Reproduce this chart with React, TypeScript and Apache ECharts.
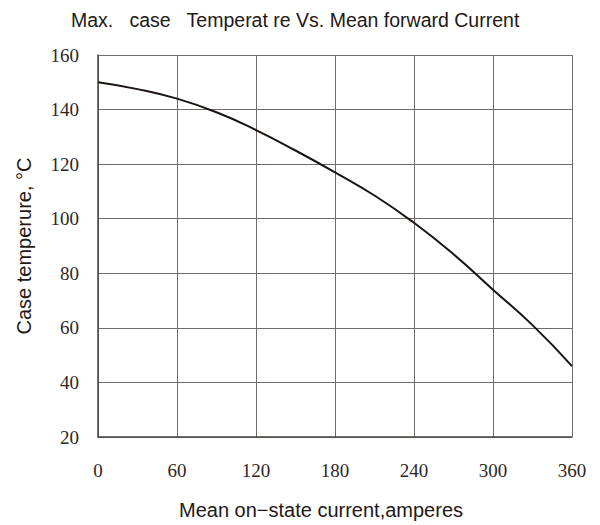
import React, { useEffect, useRef } from "react";
import * as echarts from "echarts";

const currents = [0, 30, 60, 90, 120, 150, 180, 210, 240, 270, 300, 330, 360];
const caseTemps = [150, 147.5, 144, 139, 132.5, 125, 117, 108.5, 98.5, 87, 74, 61, 46];
const titleText = "Max.   case   Temperat re Vs. Mean forward Current";
const xName = "Mean on\u2212state current,amperes";
const yName = "Case temperure, \u00b0C";

const SANS = "Liberation Sans";
const SERIF = "Liberation Serif";

export default function App() {
  const ref = useRef<HTMLDivElement>(null);
  useEffect(() => {
    if (!ref.current) return;
    const chart = echarts.init(ref.current, null, { renderer: "svg" });
    const data = currents.map((c, i) => [c, caseTemps[i]]);
    chart.setOption({
      animation: false,
      backgroundColor: "#ffffff",
      title: {
        text: titleText,
        left: 66,
        top: 5,
        textStyle: {
          fontFamily: SANS,
          fontWeight: "normal",
          fontSize: 19.5,
          color: "#231815",
        },
      },
      grid: { left: 98, right: 28, top: 55, bottom: 88 },
      xAxis: {
        type: "value",
        min: 0,
        max: 360,
        interval: 60,
        name: xName,
        nameLocation: "middle",
        nameGap: 63,
        nameTextStyle: {
          fontFamily: SANS,
          fontSize: 20,
          color: "#231815",
          padding: [0, 28, 0, 0],
        },
        axisLine: { lineStyle: { color: "#4a4442", width: 1.5 } },
        axisTick: { show: false },
        axisLabel: {
          margin: 24,
          fontFamily: SERIF,
          fontSize: 19,
          color: "#2e2624",
        },
        splitLine: { show: true, lineStyle: { color: "#716c6a", width: 1 } },
      },
      yAxis: {
        type: "value",
        min: 20,
        max: 160,
        interval: 20,
        name: yName,
        nameLocation: "middle",
        nameGap: 64,
        nameTextStyle: {
          fontFamily: SANS,
          fontSize: 20,
          color: "#231815",
        },
        axisLine: { show: true, lineStyle: { color: "#4a4442", width: 1.5 } },
        axisTick: { show: false },
        axisLabel: {
          margin: 19,
          fontFamily: SERIF,
          fontSize: 19,
          color: "#2e2624",
        },
        splitLine: { show: true, lineStyle: { color: "#716c6a", width: 1 } },
      },
      series: [
        {
          type: "line",
          data,
          smooth: true,
          showSymbol: false,
          lineStyle: { color: "#1a1311", width: 2 },
        },
      ],
    });
    return () => chart.dispose();
  }, []);
  return (
    <div
      ref={ref}
      style={{ position: "fixed", left: 0, top: 0, width: 600, height: 525 }}
    />
  );
}
